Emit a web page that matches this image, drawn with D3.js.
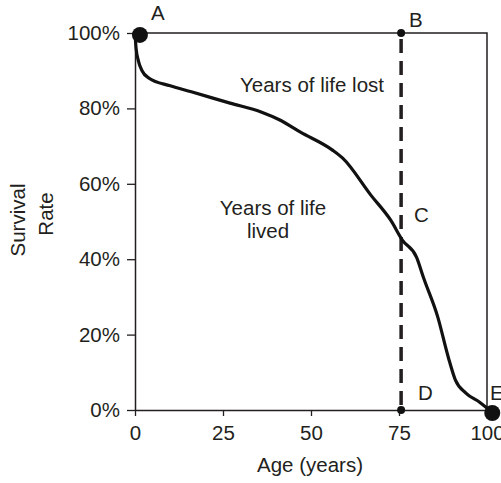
<!DOCTYPE html>
<html>
<head>
<meta charset="utf-8">
<script src="https://cdn.jsdelivr.net/npm/d3@7"></script>
<style>
  body { margin: 0; background: #fff; }
  text { font-family: "Liberation Sans", Arial, sans-serif; fill: #231f20; }
</style>
</head>
<body>
<svg id="chart" width="501" height="483"></svg>
<script>
// survival curve (age in years, survival in %)
const ages     = [0, 0.3, 1, 2, 4, 10, 16, 27, 36, 41, 47, 56, 59, 67, 72.6, 76, 80, 82, 86, 89, 91, 94, 98, 100];
const survival = [100, 96, 92.5, 90, 88, 86, 84.4, 81.4, 79, 77, 73.7, 69, 66.8, 57, 50.4, 45, 40.5, 35, 24.7, 14, 8, 4.5, 2, 0.5];
const xTicks = [0, 25, 50, 75, 100];
const yTicks = [0, 20, 40, 60, 80, 100];
const cutAge = 75.6;
// labelled points
const bigPoints   = [{name: 'A', age: 1.4, s: 99.5}, {name: 'E', age: 101.5, s: -0.8}];
const smallPoints = [{name: 'B', age: cutAge, s: 100}, {name: 'D', age: cutAge, s: 0}];

const svg = d3.select('#chart');
const x = d3.scaleLinear().domain([0, 100]).range([135, 487]);
const y = d3.scaleLinear().domain([0, 100]).range([410, 33]);
const ink = '#231f20';
const fs = '20.5px';

// frame: top and right edges
svg.append('path')
    .attr('d', `M${x(0)},${y(100)}H${x(100)}V${y(0)}`)
    .attr('fill', 'none')
    .attr('stroke', ink)
    .attr('stroke-width', 1.5);

// axes
const xAxis = svg.append('g')
    .attr('transform', `translate(0,${y(0)})`)
    .call(d3.axisBottom(x).tickValues(xTicks).tickSize(6).tickPadding(9).tickSizeOuter(0));
const yAxis = svg.append('g')
    .attr('transform', `translate(${x(0)},0)`)
    .call(d3.axisLeft(y).tickValues(yTicks).tickSize(8).tickPadding(7).tickSizeOuter(0)
        .tickFormat(d => d + '%'));
[xAxis, yAxis].forEach(g => {
    g.select('.domain').attr('stroke', ink).attr('stroke-width', 1.5);
    g.selectAll('.tick line').attr('stroke', ink).attr('stroke-width', 1.3);
    g.selectAll('.tick text')
        .style('font-family', '"Liberation Sans", Arial, sans-serif')
        .style('font-size', fs)
        .attr('fill', ink);
});

// dashed line at the age of death
svg.append('line')
    .attr('x1', x(cutAge)).attr('x2', x(cutAge))
    .attr('y1', y(100)).attr('y2', y(0))
    .attr('stroke', ink)
    .attr('stroke-width', 3.5)
    .attr('stroke-dasharray', '14,8')
    .attr('stroke-dashoffset', -6);

// survival curve
const pts = ages.map((a, i) => [a, survival[i]]);
const line = d3.line()
    .x(d => x(d[0]))
    .y(d => y(d[1]))
    .curve(d3.curveMonotoneX);
svg.append('path')
    .datum(pts)
    .attr('d', line)
    .attr('fill', 'none')
    .attr('stroke', '#111')
    .attr('stroke-width', 3.2)
    .attr('stroke-linejoin', 'round');

// markers
svg.selectAll('.big').data(bigPoints).enter().append('circle')
    .attr('cx', d => x(d.age)).attr('cy', d => y(d.s))
    .attr('r', 8).attr('fill', '#111');
svg.selectAll('.small').data(smallPoints).enter().append('circle')
    .attr('cx', d => x(d.age)).attr('cy', d => y(d.s))
    .attr('r', 4).attr('fill', '#111');

// point letters
const letters = [
    {t: 'A', px: 151, py: 20},
    {t: 'B', px: 409, py: 27},
    {t: 'C', px: 414, py: 222},
    {t: 'D', px: 418, py: 400},
    {t: 'E', px: 490, py: 400}
];
svg.selectAll('.letter').data(letters).enter().append('text')
    .attr('x', d => d.px).attr('y', d => d.py)
    .style('font-size', fs)
    .text(d => d.t);

// area labels
svg.append('text').attr('x', 312).attr('y', 92).attr('text-anchor', 'middle')
    .style('font-size', fs).text('Years of life lost');
svg.append('text').attr('x', 273).attr('y', 215).attr('text-anchor', 'middle')
    .style('font-size', fs).text('Years of life');
svg.append('text').attr('x', 268).attr('y', 238).attr('text-anchor', 'middle')
    .style('font-size', fs).text('lived');

// axis titles
svg.append('text').attr('x', 310).attr('y', 472).attr('text-anchor', 'middle')
    .style('font-size', fs).text('Age (years)');
svg.append('text').attr('transform', 'translate(25,220) rotate(-90)')
    .attr('text-anchor', 'middle').style('font-size', fs).text('Survival');
svg.append('text').attr('transform', 'translate(53,214) rotate(-90)')
    .attr('text-anchor', 'middle').style('font-size', fs).text('Rate');
</script>
</body>
</html>
